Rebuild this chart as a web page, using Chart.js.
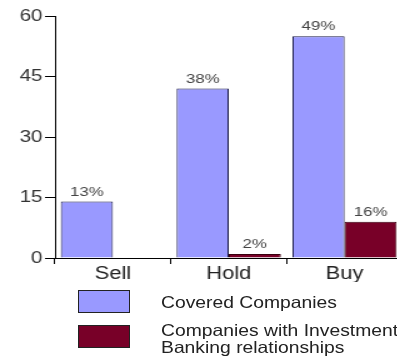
<!DOCTYPE html>
<html>
<head>
<meta charset="utf-8">
<script src="https://cdn.jsdelivr.net/npm/chart.js@4.4.1/dist/chart.umd.min.js"></script>
<style>
    html, body { margin: 0; padding: 0; background: #fff; overflow: hidden; width: 397px; height: 360px; }
    /* the reference is stretched sideways, so the canvas is too */
    #wrap { position: absolute; left: 0; top: 0; width: 322px; height: 282px; transform: scaleX(1.25); transform-origin: 0 0; }
    #legend { position: absolute; left: 0; top: 0; width: 397px; height: 360px; font-family: "Liberation Sans", Arial, sans-serif; font-size: 16.5px; color: #222; overflow: hidden; }
    .box { position: absolute; left: 78px; width: 50px; height: 21px; border: 1px solid #222; }
    .txt { position: absolute; left: 161px; line-height: 17px; white-space: nowrap; transform: scaleX(1.17); transform-origin: 0 0; }
</style>
</head>
<body>
<div id="wrap"><canvas id="ratingsChart" width="322" height="282"></canvas></div>
<div id="legend"></div>
<script>
const categories = ['Sell', 'Hold', 'Buy'];
const coveredValues = [14, 42, 55];
const bankingValues = [0, 1, 9];
const coveredLabels = ['13%', '38%', '49%'];
const bankingLabels = ['', '2%', '16%'];
const seriesNames = ['Covered Companies', 'Companies with Investment\nBanking relationships'];
const yTicks = [0, 15, 30, 45, 60];

const fontFamily = '"Liberation Sans", Arial, sans-serif';

// percent labels on top of each bar
const barLabels = {
    id: 'barLabels',
    afterDatasetsDraw(chart) {
        const ctx = chart.ctx;
        ctx.save();
        ctx.font = '13.5px ' + fontFamily;
        ctx.fillStyle = '#444';
        ctx.textAlign = 'center';
        ctx.textBaseline = 'bottom';
        chart.data.datasets.forEach((ds, i) => {
            chart.getDatasetMeta(i).data.forEach((bar, j) => {
                const text = ds.pctLabels[j];
                if (text) ctx.fillText(text, bar.x, bar.y - 3);
            });
        });
        ctx.restore();
    }
};

const createChart = () => {
    const ctx = document.getElementById('ratingsChart').getContext('2d');
    return new Chart(ctx, {
        type: 'bar',
        data: {
            labels: categories,
            datasets: [{
                label: seriesNames[0],
                data: coveredValues,
                pctLabels: coveredLabels,
                backgroundColor: '#9999ff',
                borderColor: '#1c1c4a',
                borderWidth: 1
            }, {
                label: seriesNames[1],
                data: bankingValues,
                pctLabels: bankingLabels,
                backgroundColor: '#780028',
                borderColor: '#3a0010',
                borderWidth: 1
            }]
        },
        options: {
            responsive: false,
            animation: false,
            devicePixelRatio: 1,
            layout: { padding: { top: 16, right: 0, left: 0, bottom: 0 } },
            datasets: {
                bar: { categoryPercentage: 0.9, barPercentage: 1.0 }
            },
            scales: {
                x: {
                    offset: true,
                    grid: { display: true, drawOnChartArea: false, offset: true, tickLength: 6, color: '#000' },
                    border: { color: '#000', width: 1 },
                    ticks: { color: '#222', font: { family: fontFamily, size: 17.5 }, padding: 0 },
                    afterFit: (scale) => { scale.height = 24; }
                },
                y: {
                    min: 0,
                    max: 60,
                    ticks: {
                        stepSize: 7.5,
                        color: '#333',
                        padding: 2,
                        font: { family: fontFamily, size: 16.5 },
                        callback: (v) => yTicks.includes(v) ? v : ''
                    },
                    grid: {
                        drawOnChartArea: false,
                        tickLength: 8,
                        color: (c) => yTicks.includes(c.tick.value) ? '#000' : 'rgba(0,0,0,0)'
                    },
                    border: { color: '#000', width: 1 },
                    afterFit: (scale) => { scale.width = 44; }
                }
            },
            plugins: {
                legend: { display: false },
                tooltip: { enabled: false }
            }
        },
        plugins: [barLabels]
    });
};

const buildLegend = (chart) => {
    const legend = document.getElementById('legend');
    const boxTops = [290, 325];
    const textTops = [294, 322];
    chart.data.datasets.forEach((ds, i) => {
        const box = document.createElement('div');
        box.className = 'box';
        box.style.top = boxTops[i] + 'px';
        box.style.background = ds.backgroundColor;
        legend.appendChild(box);
        const txt = document.createElement('div');
        txt.className = 'txt';
        txt.style.top = textTops[i] + 'px';
        txt.innerHTML = ds.label.split('\n').join('<br>');
        legend.appendChild(txt);
    });
};

const chart = createChart();
buildLegend(chart);
</script>
</body>
</html>
